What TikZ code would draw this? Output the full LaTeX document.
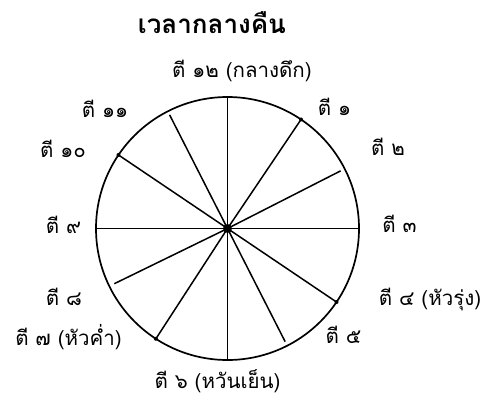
\documentclass[tikz,border=0pt]{standalone}
\usepackage{fontspec}
\usetikzlibrary{calc}
\newfontfamily\thaifont[Script=Thai]{Loma}
\begin{document}
\begin{tikzpicture}[x=1pt,y=-1pt,
  lbl/.style={font=\thaifont\fontsize{20.5}{24}\selectfont, inner sep=0pt, anchor=base},
  ttl/.style={font=\thaifont\bfseries\fontsize{26}{30}\selectfont, inner sep=0pt, anchor=base},
  spoke/.style={line width=1.5pt},
  rim/.style={line width=1.7pt},
  jdot/.style={fill=black}]
\useasboundingbox[fill=white] (0,0) rectangle (495,400);
\coordinate (c) at (227.5,228.5);
\draw[rim] (c) circle (131.5);
\foreach \n/\a/\r in {12/-90/131.5, 1/-56/131.5, 2/-27/127, 3/0/131.5, 4/34/131.5, 5/63/127,
  6/90/131.5, 7/123/131.5, 8/154/126, 9/180/131.5, 10/-146/131.5, 11/-117/127.5}
  \coordinate (s\n) at ($(c)+(\a:\r)$);
\foreach \n in {12,1,2,3,4,5,6,7,8,9,10,11}
  \draw[spoke] (c) -- (s\n);
\foreach \n in {1,4,7,10}
  \fill[jdot] (s\n) circle (2);
\fill (c) circle (4.5);
\node[ttl] (title) at (212,33) {เวลากลางคืน};
\node[lbl] (l12) at (242,77) {ตี ๑๒ (กลางดึก)};
\node[lbl] (l11) at (105,117) {ตี ๑๑};
\node[lbl] (l1) at (334.5,115) {ตี ๑};
\node[lbl] (l10) at (63,157) {ตี ๑๐};
\node[lbl] (l2) at (388,155) {ตี ๒};
\node[lbl] (l9) at (63.5,233) {ตี ๙};
\node[lbl] (l3) at (399.5,232) {ตี ๓};
\node[lbl] (l8) at (64,305) {ตี ๘};
\node[lbl] (l4) at (430,305) {ตี ๔ (หัวรุ่ง)};
\node[lbl] (l7) at (68.5,345) {ตี ๗ (หัวค่ำ)};
\node[lbl] (l5) at (343.5,343) {ตี ๕};
\node[lbl] (l6) at (217.5,388) {ตี ๖ (หวันเย็น)};
\end{tikzpicture}
\end{document}
